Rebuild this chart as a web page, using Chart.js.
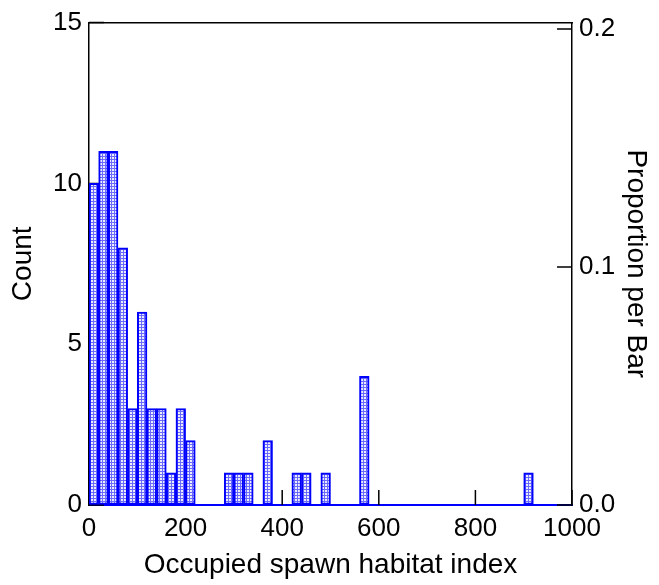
<!DOCTYPE html>
<html>
<head>
<meta charset="utf-8">
<script src="https://cdn.jsdelivr.net/npm/chart.js@4.4.1/dist/chart.umd.min.js"></script>
<style>
html,body{margin:0;padding:0;background:#fff;}
#wrap{width:659px;height:585px;position:relative;}
</style>
</head>
<body>
<div id="wrap"><canvas id="c" width="659" height="585"></canvas></div>
<script>
// Histogram bins: lower edges (width 20) and counts
const binWidth = 20;
const binLow = [0,20,40,60,80,100,120,140,160,180,200,220,240,260,280,300,320,340,360,380,
  400,420,440,460,480,500,520,540,560,580,600,620,640,660,680,700,720,740,760,780,
  800,820,840,860,880,900,920,940,960,980];
const counts = [10,11,11,8,3,6,3,3,1,3, 2,0,0,0,1,1,1,0,2,0,
  0,1,1,0,1,0,0,0,4,0, 0,0,0,0,0,0,0,0,0,0, 0,0,0,0,0,1,0,0,0,0];
const xTicks = [0,200,400,600,800,1000];
const countTicks = [0,5,10,15];
const propTicks = [0.0,0.1,0.2];
const totalN = 74;
const countMax = 15;
const xTitle = 'Occupied spawn habitat index';
const yTitle = 'Count';
const y2Title = 'Proportion per Bar';

// fine grid fill pattern
const pc = document.createElement('canvas');
pc.width = 3; pc.height = 3;
const pctx = pc.getContext('2d');
pctx.fillStyle = '#6a6aff'; pctx.fillRect(0,0,3,3);
pctx.fillStyle = '#ececff'; pctx.fillRect(1,1,2,2);
const ctx0 = document.getElementById('c').getContext('2d');
const pattern = ctx0.createPattern(pc, 'repeat');

const data = binLow.map((lo,i)=>({x: lo + binWidth/2, y: counts[i]}));
const font = {family: '"Liberation Sans", Arial, sans-serif', size: 26};
const tfont = {family: '"Liberation Sans", Arial, sans-serif', size: 28};

const inwardTicks = {
  id: 'inwardTicks',
  beforeDatasetsDraw(chart){
    const {ctx, chartArea:a, scales} = chart;
    ctx.save();
    ctx.strokeStyle = '#000'; ctx.lineWidth = 1.5;
    ctx.beginPath();
    scales.x.ticks.forEach(t=>{const p=scales.x.getPixelForValue(t.value); ctx.moveTo(p,a.bottom); ctx.lineTo(p,a.bottom-15);});
    scales.y.ticks.forEach(t=>{const p=scales.y.getPixelForValue(t.value); ctx.moveTo(a.left,p); ctx.lineTo(a.left+15,p);});
    scales.y2.ticks.forEach(t=>{const p=scales.y2.getPixelForValue(t.value); ctx.moveTo(a.right,p); ctx.lineTo(a.right-15,p);});
    ctx.stroke();
    ctx.restore();
  }
};

new Chart(ctx0, {
  type: 'bar',
  data: {datasets: [{data, backgroundColor: pattern, borderColor: '#0000ff', borderWidth: 2,
    borderSkipped: false, barPercentage: 1, categoryPercentage: 1, xAxisID: 'x', yAxisID: 'y'}]},
  options: {
    responsive: false, animation: false,
    layout: {padding: 0},
    plugins: {legend: {display: false}, tooltip: {enabled: false}},
    scales: {
      x: {type: 'linear', position: 'bottom', min: 0, max: 1000, offset: false,
        afterBuildTicks(s){ s.ticks = xTicks.map(v=>({value:v})); },
        afterFit(s){ s.height = 80; },
        grid: {drawOnChartArea: false, drawTicks: false},
        border: {color: '#0000ff', width: 2},
        ticks: {font, color: '#000', padding: 8, maxRotation: 0, autoSkip: false, callback: v=>String(v)},
        title: {display: true, text: xTitle, font: tfont, color: '#000', padding: {top: 0, bottom: 3}}
      },
      xTop: {type: 'linear', position: 'top', min: 0, max: 1000,
        afterFit(s){ s.height = 21; },
        grid: {drawOnChartArea: false, drawTicks: false},
        border: {color: '#000', width: 1.5},
        ticks: {display: false}
      },
      y: {type: 'linear', position: 'left', min: 0, max: countMax,
        afterBuildTicks(s){ s.ticks = countTicks.map(v=>({value:v})); },
        afterFit(s){ s.width = 89; },
        grid: {drawOnChartArea: false, drawTicks: false},
        border: {color: '#000', width: 1.5},
        ticks: {font, color: '#000', padding: 7, callback: v=>String(v)},
        title: {display: true, text: yTitle, font: tfont, color: '#000', padding: {top: 6, bottom: 0}}
      },
      y2: {type: 'linear', position: 'right', min: 0, max: countMax/totalN,
        afterBuildTicks(s){ s.ticks = propTicks.map(v=>({value:v})); },
        afterFit(s){ s.width = 87; },
        grid: {drawOnChartArea: false, drawTicks: false},
        border: {color: '#000', width: 1.5},
        ticks: {font, color: '#000', padding: 7, callback: v=>v.toFixed(1)},
        title: {display: true, text: y2Title, font: tfont, color: '#000', padding: {top: 6, bottom: 0}}
      }
    }
  },
  plugins: [inwardTicks]
});
</script>
</body>
</html>
